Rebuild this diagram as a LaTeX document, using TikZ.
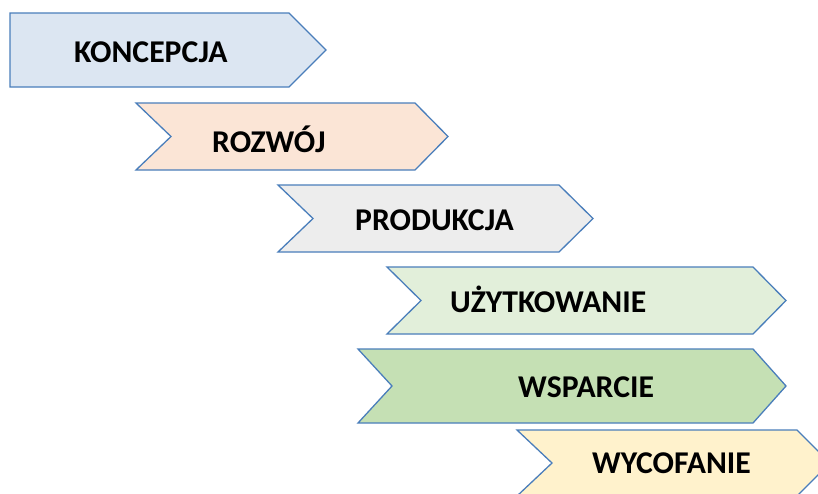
\documentclass[tikz,border=0pt]{standalone}
\usepackage{fontspec}
\setmainfont{Carlito}
\definecolor{edge}{RGB}{74,126,187}
\definecolor{cA}{RGB}{220,230,242}
\definecolor{cB}{RGB}{251,229,214}
\definecolor{cC}{RGB}{237,237,237}
\definecolor{cD}{RGB}{226,239,218}
\definecolor{cE}{RGB}{197,224,180}
\definecolor{cF}{RGB}{255,242,204}
\tikzset{
  chev/.style={draw=edge, line width=1.3pt, line join=miter},
  lbl/.style={anchor=base west, inner sep=0pt, font=\fontsize{31.7}{38}\selectfont\bfseries, text=black}
}
\begin{document}
\begin{tikzpicture}[x=1pt,y=-1pt]
\useasboundingbox (0,0) rectangle (818,493);
\clip (0,0) rectangle (818,493);
\fill[white] (0,0) rectangle (818,493);
\filldraw[chev, fill=cA] (10,13) -- (289,13) -- (326,50) -- (289,87) -- (10,87) -- cycle;
\filldraw[chev, fill=cB] (136,103) -- (415,103) -- (448,136.5) -- (415,170) -- (136,170) -- (171,136.5) -- cycle;
\filldraw[chev, fill=cC] (278,185) -- (559,185) -- (593,218.5) -- (559,252) -- (278,252) -- (313,218.5) -- cycle;
\filldraw[chev, fill=cD] (387,267) -- (753,267) -- (786,300.5) -- (753,334) -- (387,334) -- (421,300.5) -- cycle;
\filldraw[chev, fill=cE] (358,349) -- (753,349) -- (786,386) -- (753,423) -- (358,423) -- (392,386) -- cycle;
\filldraw[chev, fill=cF] (517,430) -- (797,430) -- (830,463) -- (797,496) -- (517,496) -- (552,463) -- cycle;
\node[lbl] (t1) at (74,62) {KONCEPCJA};
\node[lbl] (t2) at (212,152) {ROZWÓJ};
\node[lbl] (t3) at (355,230) {PRODUKCJA};
\node[lbl] (t4) at (450,312) {UŻYTKOWANIE};
\node[lbl] (t5) at (518,397) {WSPARCIE};
\node[lbl] (t6) at (592,473) {WYCOFANIE};
\end{tikzpicture}
\end{document}
